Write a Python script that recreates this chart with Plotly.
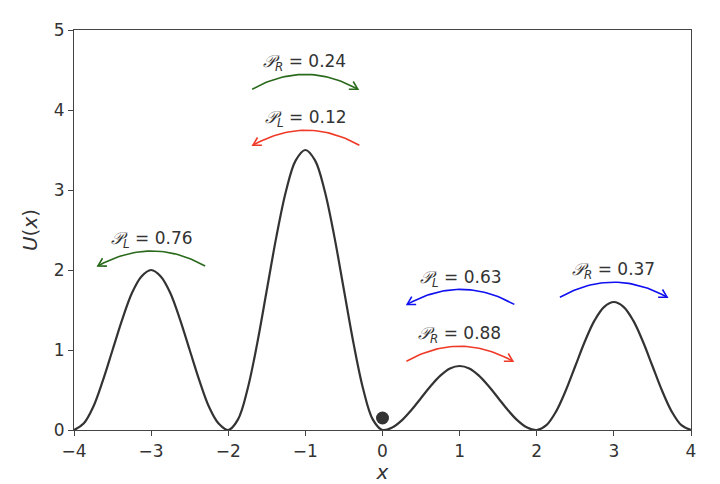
import numpy as np
import plotly.graph_objects as go

# potential curve (eighth steps from -4 to 4)
x_pts = list(np.arange(-4, 4.0001, 0.125))
u_pts = [0, 0.08, 0.29, 0.62, 1.0, 1.38, 1.71, 1.92,
         2.0, 1.92, 1.71, 1.38, 1.0, 0.62, 0.29, 0.08,
         0, 0.13, 0.51, 1.08, 1.75, 2.42, 2.99, 3.37,
         3.5, 3.37, 2.99, 2.42, 1.75, 1.08, 0.51, 0.13,
         0, 0.03, 0.12, 0.25, 0.4, 0.55, 0.68, 0.77,
         0.8, 0.77, 0.68, 0.55, 0.4, 0.25, 0.12, 0.03,
         0, 0.06, 0.23, 0.49, 0.8, 1.11, 1.37, 1.54,
         1.6, 1.54, 1.37, 1.11, 0.8, 0.49, 0.23, 0.06, 0]

ball_x = [0]
ball_y = [0.15]

# transition arrows: start x, end x, y, label, colour
arr_x0 = [-1.69, -0.30, -2.30, 1.71, 0.31, 2.30]
arr_x1 = [-0.32, -1.68, -3.69, 0.32, 1.69, 3.69]
arr_y = [4.26, 3.56, 2.05, 1.57, 0.86, 1.66]
arr_label = ["R", "L", "L", "L", "R", "R"]
arr_value = [0.24, 0.12, 0.76, 0.63, 0.88, 0.37]
arr_color = ["#2b6a1d", "#f03a28", "#2b6a1d", "#1010f0", "#f03a28", "#1010f0"]

# pixel scale of the plot area, used to shape arcs and heads
sx, sy = 77.1, 80.0


def arc_with_head(x0, x1, y, rad=0.28, head=9, spread=np.radians(30)):
    p0 = np.array([x0 * sx, y * sy])
    p1 = np.array([x1 * sx, y * sy])
    d = p1 - p0
    dist = np.hypot(*d)
    perp = np.array([-d[1], d[0]]) / dist
    if d[0] < 0:
        perp = -perp
    c = (p0 + p1) / 2 + perp * rad * dist
    t = np.linspace(0, 1, 40)[:, None]
    pts = (1 - t) ** 2 * p0 + 2 * (1 - t) * t * c + t ** 2 * p1
    tang = p1 - c
    ang = np.arctan2(tang[1], tang[0])
    h1 = p1 - head * np.array([np.cos(ang - spread), np.sin(ang - spread)])
    h2 = p1 - head * np.array([np.cos(ang + spread), np.sin(ang + spread)])
    xs = list(pts[:, 0] / sx) + [None, h1[0] / sx, p1[0] / sx, h2[0] / sx]
    ys = list(pts[:, 1] / sy) + [None, h1[1] / sy, p1[1] / sy, h2[1] / sy]
    return xs, ys


fig = go.Figure()

fig.add_trace(go.Scatter(x=x_pts, y=u_pts, mode="lines", line_shape="spline",
                         line=dict(color="#333333", width=2.2), hoverinfo="skip"))
fig.add_trace(go.Scatter(x=ball_x, y=ball_y, mode="markers",
                         marker=dict(color="#333333", size=13), hoverinfo="skip"))

for x0, x1, y, lab, val, col in zip(arr_x0, arr_x1, arr_y, arr_label, arr_value, arr_color):
    xs, ys = arc_with_head(x0, x1, y)
    fig.add_trace(go.Scatter(x=xs, y=ys, mode="lines",
                             line=dict(color=col, width=1.6), hoverinfo="skip"))
    fig.add_annotation(x=(x0 + x1) / 2, y=y + 0.33, xref="x", yref="y",
                       text=f"<i>𝒫</i><sub><i>{lab}</i></sub> = {val:.2f}",
                       showarrow=False, font=dict(size=17, color="#333333"))

fig.update_layout(
    template=None,
    width=720, height=484,
    showlegend=False,
    plot_bgcolor="white", paper_bgcolor="white",
    font=dict(family="DejaVu Sans", size=17, color="#333333"),
    margin=dict(l=74, r=29, t=30, b=54),
    xaxis=dict(range=[-4, 4], tickvals=[-4, -3, -2, -1, 0, 1, 2, 3, 4],
               ticktext=["−4", "−3", "−2", "−1", "0", "1", "2", "3", "4"],
               ticks="outside", ticklen=5, tickcolor="#444444",
               showline=True, linecolor="#444444", linewidth=1.2, mirror=True,
               showgrid=False, zeroline=False,
               title=dict(text="<i>x</i>", standoff=6)),
    yaxis=dict(range=[0, 5], tickvals=[0, 1, 2, 3, 4, 5],
               ticks="outside", ticklen=5, tickcolor="#444444",
               showline=True, linecolor="#444444", linewidth=1.2, mirror=True,
               showgrid=False, zeroline=False,
               title=dict(text="<i>U</i>(<i>x</i>)", standoff=10)),
)

fig.write_html("out.html", config={"displayModeBar": False},
               post_script="document.body.style.margin='0';")
